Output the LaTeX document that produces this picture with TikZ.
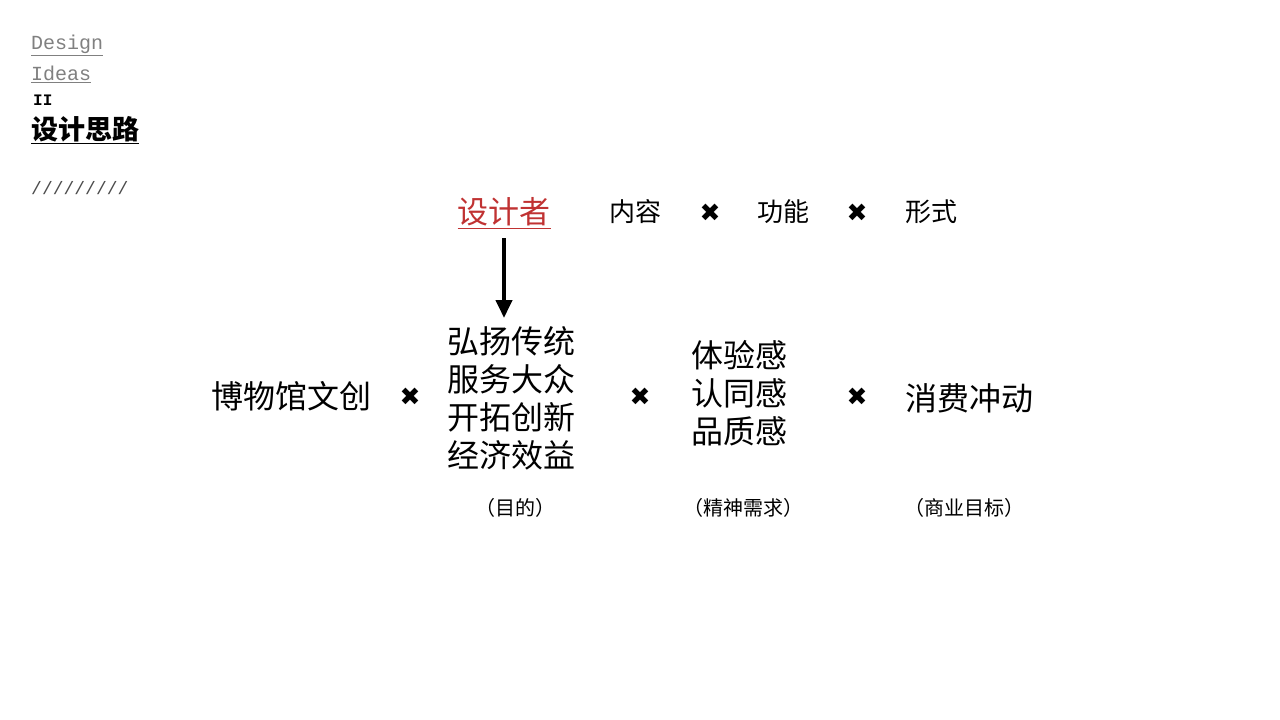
\documentclass[tikz,border=0pt]{standalone}
\usepackage{fontspec}
\usetikzlibrary{arrows.meta}
\newfontfamily\cjk{Noto Sans CJK SC}
\newfontfamily\sym{DejaVu Sans}
\newfontfamily\mono{Liberation Mono}
\begin{document}
\begin{tikzpicture}[x=1pt,y=-1pt,
  txt/.style={inner sep=0pt,font=\cjk\fontsize{26}{28}\selectfont},
  big/.style={inner sep=0pt,font=\cjk\fontsize{32}{38}\selectfont,align=center},
  note/.style={inner sep=0pt,font=\cjk\fontsize{20}{22}\selectfont},
  times/.style={inner sep=0pt,font=\sym\fontsize{25}{25}\selectfont}]
\useasboundingbox (0,0) rectangle (1280,720);
\node[anchor=west,inner sep=0pt,font=\mono\fontsize{20}{20}\selectfont,text=gray] (d1) at (31,45) {\underline{Design}};
\node[anchor=west,inner sep=0pt,font=\mono\fontsize{20}{20}\selectfont,text=gray] (d2) at (31,74) {\underline{Ideas}};
\node[anchor=west,inner sep=0pt,font=\mono\bfseries\fontsize{16}{16}\selectfont] (d3) at (33,100) {II};
\node[anchor=west,inner sep=0pt,font=\cjk\bfseries\fontsize{27}{27}\selectfont] (d4) at (31,130) {\underline{设计思路}};
\node[anchor=west,inner sep=0pt,font=\mono\fontsize{18}{18}\selectfont,text=black!70] (d5) at (31,188) {/////////};
\node[txt,font=\cjk\fontsize{31}{31}\selectfont,text={rgb,255:red,192;green,50;blue,50}] (des) at (504,213) {\underline{设计者}};
\node[txt] (c1) at (635,212) {内容};
\node[times] (x1) at (710,213) {✖};
\node[txt] (c2) at (783,212) {功能};
\node[times] (x2) at (857,213) {✖};
\node[txt] (c3) at (931,212) {形式};
\node[big] (m1) at (291,396) {博物馆文创};
\node[times] (x3) at (410,397) {✖};
\node[big] (m2) at (511,398) {弘扬传统\\服务大众\\开拓创新\\经济效益};
\node[times] (x4) at (640,397) {✖};
\node[big] (m3) at (739,393) {体验感\\认同感\\品质感};
\node[times] (x5) at (857,397) {✖};
\node[big] (m4) at (969,398) {消费冲动};
\node[note] (n1) at (515,508) {（目的）};
\node[note] (n2) at (743,508) {（精神需求）};
\node[note] (n3) at (964,508) {（商业目标）};
\draw[line width=4pt,-{Triangle[width=16pt,length=18pt]}] (504,238) -- (504,318);
\end{tikzpicture}
\end{document}
